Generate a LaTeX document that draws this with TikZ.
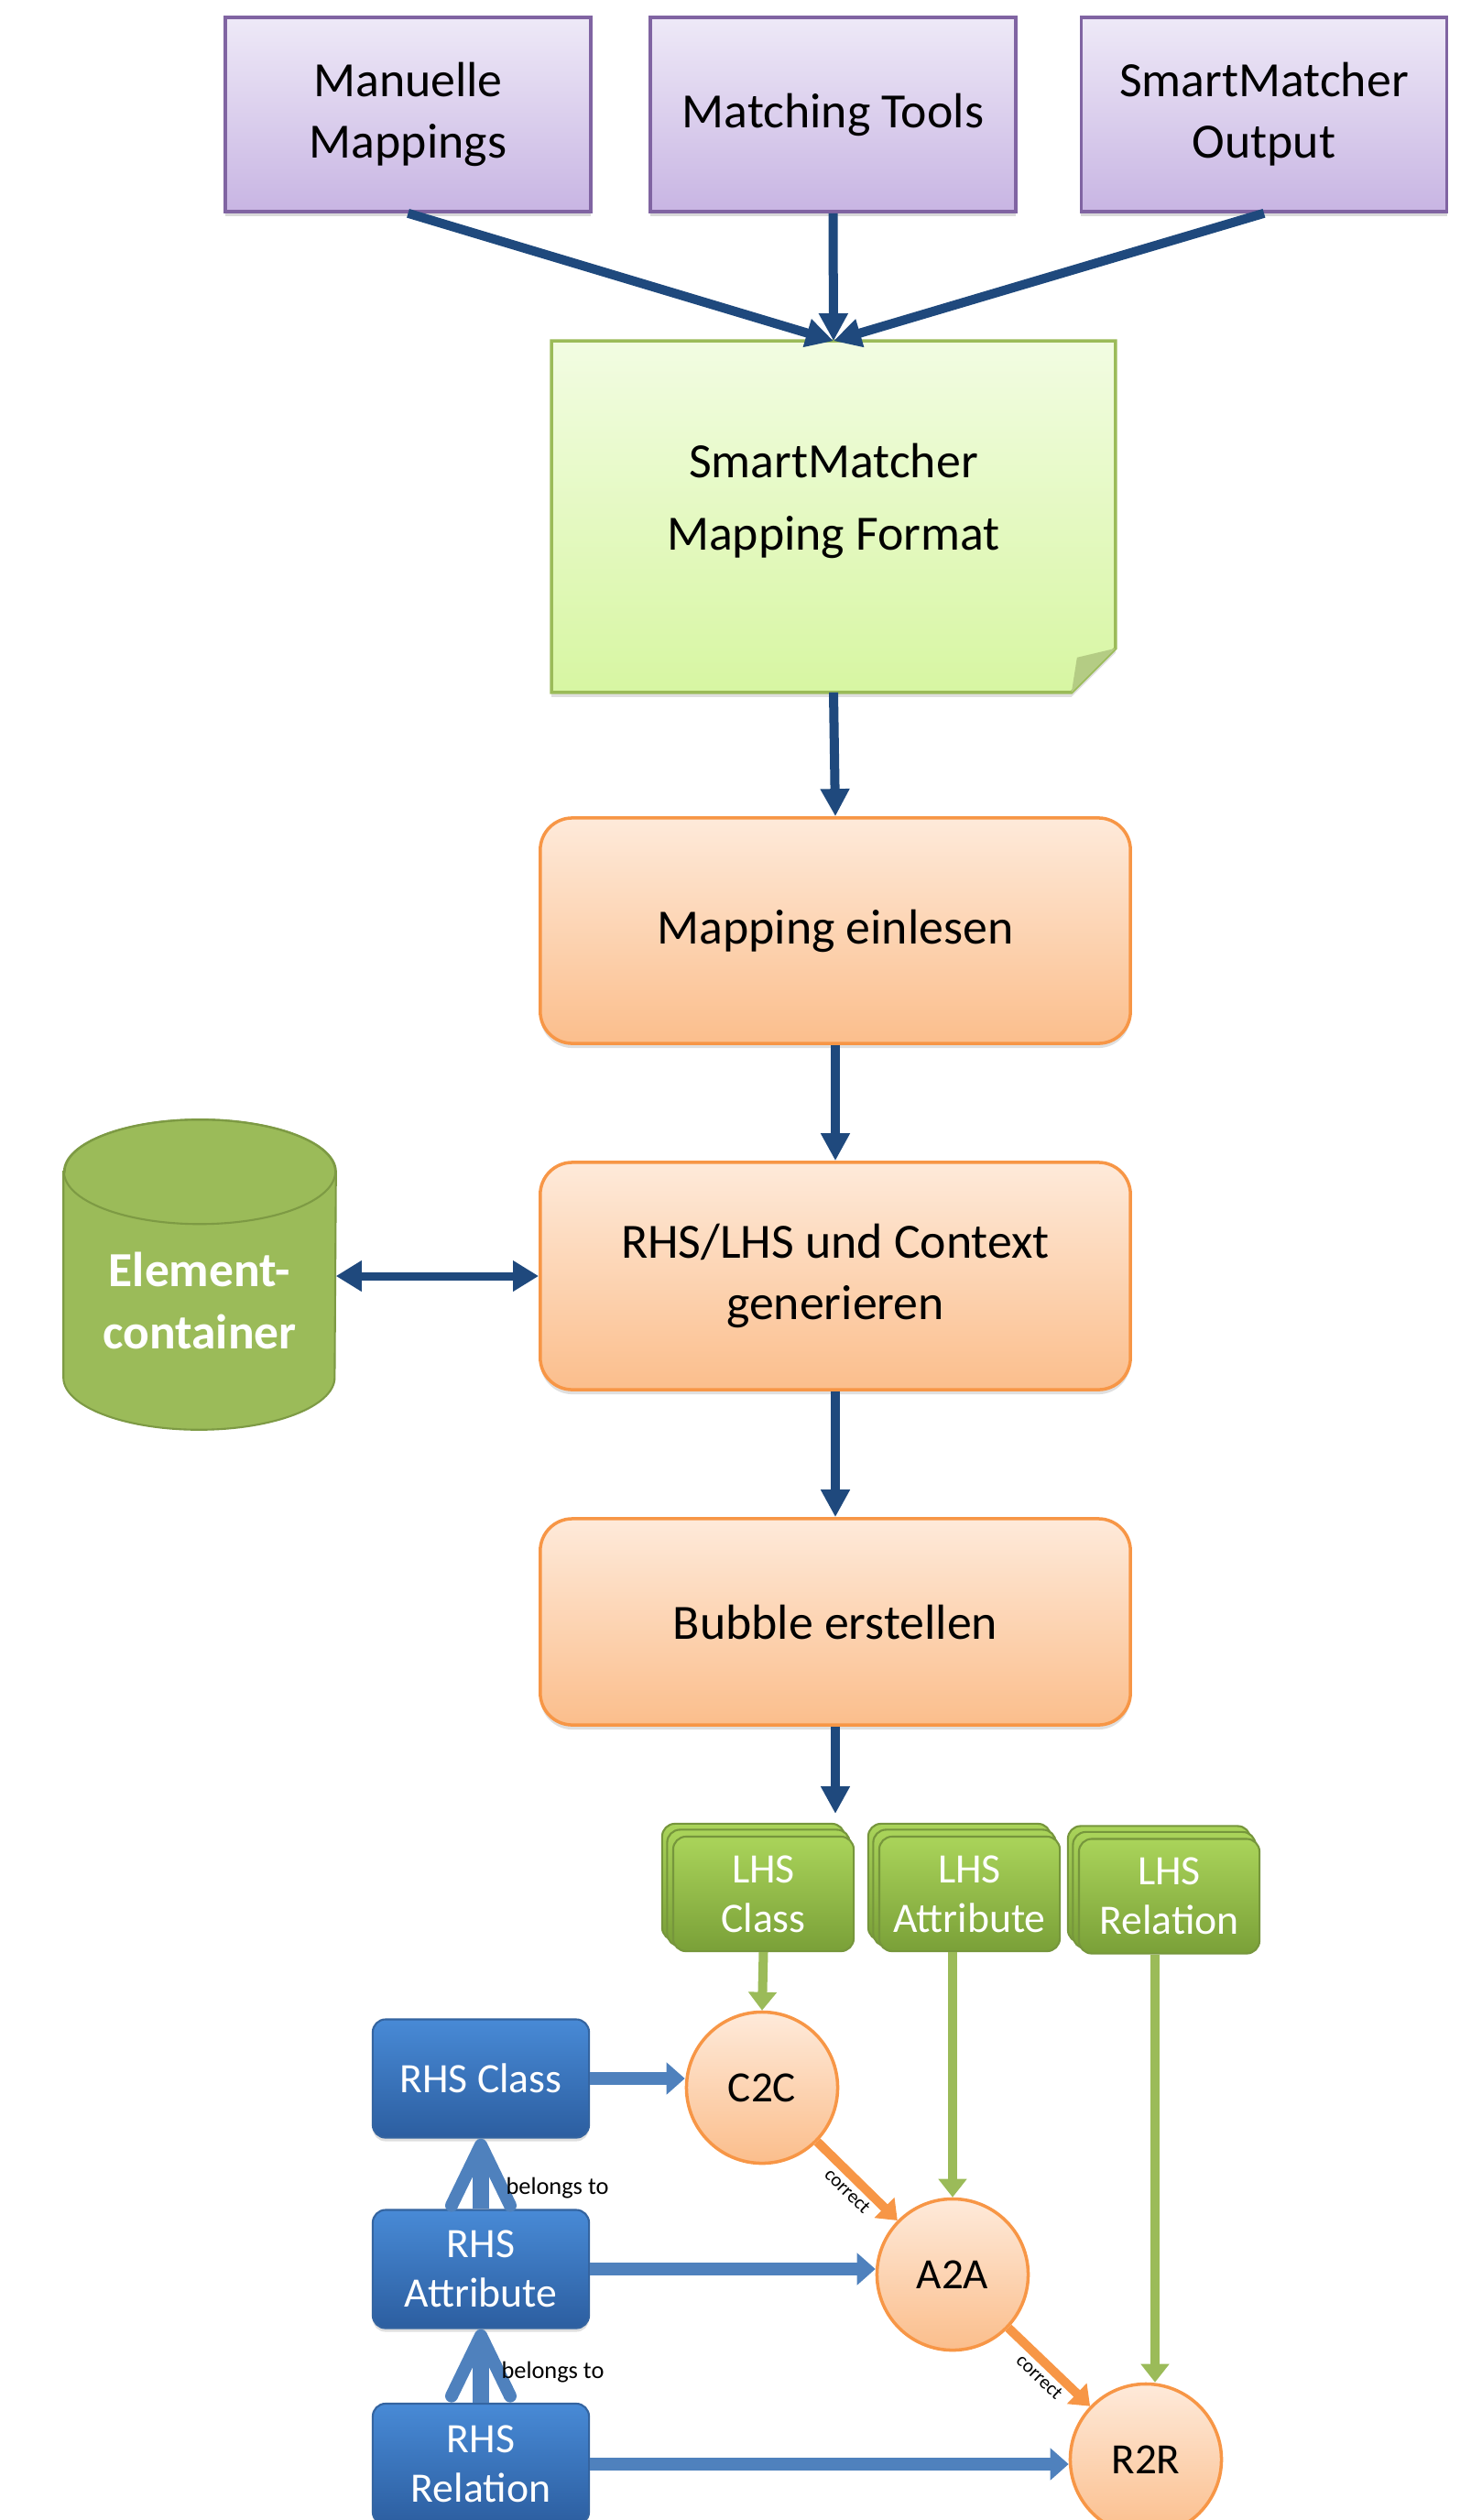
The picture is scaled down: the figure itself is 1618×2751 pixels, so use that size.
\documentclass[tikz,border=0pt]{standalone}
\usepackage{fontspec}
\setmainfont{Carlito}
\usetikzlibrary{arrows.meta,shadows,backgrounds}

\definecolor{navy}{RGB}{31,73,125}
\definecolor{srcline}{RGB}{128,100,162}
\definecolor{srctop}{RGB}{238,233,247}
\definecolor{srcbot}{RGB}{200,181,227}
\definecolor{fmtline}{RGB}{155,187,89}
\definecolor{fmttop}{RGB}{242,252,226}
\definecolor{fmtbot}{RGB}{215,246,162}
\definecolor{fmtfold}{RGB}{180,204,132}
\definecolor{stepline}{RGB}{247,150,70}
\definecolor{steptop}{RGB}{254,234,218}
\definecolor{stepbot}{RGB}{251,190,140}
\definecolor{cylfill}{RGB}{155,187,89}
\definecolor{cylline}{RGB}{125,154,68}
\definecolor{lhstop}{RGB}{170,212,90}
\definecolor{lhsbot}{RGB}{122,160,56}
\definecolor{lhsline}{RGB}{118,150,60}
\definecolor{rhstop}{RGB}{72,138,214}
\definecolor{rhsbot}{RGB}{44,94,160}
\definecolor{rhsline}{RGB}{52,100,160}
\definecolor{linkblue}{RGB}{79,129,189}
\definecolor{linkgreen}{RGB}{155,187,89}
\definecolor{linkorange}{RGB}{247,150,70}

\begin{document}
\begin{tikzpicture}[x=0.01cm, y=-0.01cm]
        \useasboundingbox (0,0) rectangle (1618,2751);
        \tikzstyle{every node} = [align=center]
        \tikzstyle{source} = [rectangle, draw=srcline, line width=1pt, top color=srctop, bottom color=srcbot,
            minimum width=3.99cm, minimum height=2.12cm, font=\fontsize{15.3}{19}\selectfont,
            drop shadow={shadow xshift=0pt, shadow yshift=-0.05cm, opacity=0.3}]
        \tikzstyle{fmtbox} = [rectangle, minimum width=6.14cm, minimum height=3.82cm]
        \tikzstyle{fmttext} = [font=\fontsize{15.3}{22.7}\selectfont]
        \tikzstyle{stepbox} = [rectangle, rounded corners=0.35cm, draw=stepline, line width=1pt,
            top color=steptop, bottom color=stepbot, minimum width=6.44cm, font=\fontsize{15.3}{19}\selectfont,
            drop shadow={shadow xshift=0pt, shadow yshift=-0.05cm, opacity=0.25}]
        \tikzstyle{store} = [rectangle, minimum width=2.96cm, minimum height=2.8cm, text=white,
            font=\fontsize{15.2}{19.5}\selectfont\bfseries]
        \tikzstyle{lhsbox} = [rectangle, rounded corners=0.14cm, draw=lhsline, line width=0.6pt,
            top color=lhstop, bottom color=lhsbot, minimum width=1.97cm, minimum height=1.25cm,
            text=white, font=\fontsize{13}{15.4}\selectfont]
        \tikzstyle{rhsbox} = [rectangle, rounded corners=0.14cm, draw=rhsline, line width=0.6pt,
            top color=rhstop, bottom color=rhsbot, minimum width=2.36cm, minimum height=1.29cm,
            text=white, font=\fontsize{13}{15.4}\selectfont,
            drop shadow={shadow xshift=0pt, shadow yshift=-0.04cm, opacity=0.25}]
        \tikzstyle{bubble} = [circle, draw=stepline, line width=1pt, top color=steptop, bottom color=stepbot,
            minimum size=1.65cm, inner sep=0pt, font=\fontsize{13.4}{16}\selectfont]
        \tikzstyle{flow} = [draw=navy, line width=0.1cm, -{Triangle[length=0.3cm, width=0.3cm]}]
        \tikzstyle{sync} = [draw=navy, line width=0.09cm, {Triangle[length=0.28cm, width=0.32cm]}-{Triangle[length=0.28cm, width=0.32cm]}]
        \tikzstyle{feed} = [draw=linkgreen, line width=0.1cm, -{Triangle[length=0.2cm, width=0.3cm]}]
        \tikzstyle{fix} = [draw=linkorange, line width=0.1cm, -{Triangle[length=0.2cm, width=0.3cm]}]
        \tikzstyle{assign} = [draw=linkblue, line width=0.14cm, -{Triangle[length=0.2cm, width=0.34cm]}]
        \tikzstyle{belongs} = [draw=linkblue, line width=0.18cm, -{Straight Barb[length=0.66cm, width=0.64cm, line width=0.14cm, round]}]
        \tikzstyle{tiny} = [font=\fontsize{7.5}{9}\selectfont, inner sep=1pt]

        % inputs
        \node[source] (man) at (445.5,125) {Manuelle\\Mappings};
        \node[source] (tools) at (909.5,125) {Matching Tools};
        \node[source] (smo) at (1380,125) {SmartMatcher\\Output};

        % mapping format note
        \node[fmtbox] (fmt) at (910,564) {};
        \node[fmttext] (fmtlabel) at ([yshift=0.17cm]fmt.center) {SmartMatcher\\Mapping Format};

        % steps
        \node[stepbox, minimum height=2.46cm] (read) at (912,1016) {Mapping einlesen};
        \node[stepbox, minimum height=2.48cm] (gen) at (912,1393) {RHS/LHS und Context\\generieren};
        \node[stepbox, minimum height=2.25cm] (bub) at (912,1770.5) {Bubble erstellen};
        \node[store] (elem) at (218,1420) {Element-\\container};

        % bubble
        \node[lhsbox] (lhsc) at (833.5,2067.5) {LHS\\Class};
        \node[lhsbox] (lhsa) at (1058.5,2067.5) {LHS\\Attribute};
        \node[lhsbox] (lhsr) at (1276.5,2070) {LHS\\Relation};
        \node[rhsbox] (rhsc) at (525,2269) {RHS Class};
        \node[rhsbox] (rhsa) at (525,2477) {RHS\\Attribute};
        \node[rhsbox, minimum height=1.32cm] (rhsr) at (525,2690) {RHS\\Relation};
        \node[bubble] (c2c) at (832,2279) {C2C};
        \node[bubble] (a2a) at (1040,2483) {A2A};
        \node[bubble] (r2r) at (1251,2685) {R2R};
        \coordinate (bubout) at (912,1980);

        \begin{scope}[on background layer]
            \shade[top color=fmttop, bottom color=fmtbot, draw=fmtline, line width=1pt,
                drop shadow={shadow xshift=0pt, shadow yshift=-0.05cm, opacity=0.25}]
                (fmt.north west) -- (fmt.north east) -- ([yshift=0.48cm]fmt.south east)
                -- ([xshift=-0.48cm]fmt.south east) -- (fmt.south west) -- cycle;
            \fill[fmtfold] ([yshift=0.48cm]fmt.south east) -- ([xshift=-0.48cm]fmt.south east)
                -- ([xshift=-0.42cm, yshift=0.38cm]fmt.south east) -- cycle;
            \draw[fill=cylfill, draw=cylline, line width=0.6pt] (elem.north west) -- ([yshift=0.57cm]elem.south west)
                arc[start angle=180, end angle=360, x radius=1.48cm, y radius=0.57cm]
                -- (elem.north east)
                arc[start angle=0, end angle=180, x radius=1.48cm, y radius=0.57cm] -- cycle;
            \draw[draw=cylline, line width=0.6pt] (elem.north) ellipse[x radius=1.48cm, y radius=0.57cm];
            \foreach \n in {lhsc,lhsa,lhsr}
                \foreach \s in {2,1}
                    \shade[top color=lhstop, bottom color=lhsbot, draw=lhsline, line width=0.6pt, rounded corners=0.14cm]
                        ([xshift={-\s*0.055cm}, yshift={\s*0.065cm}]\n.south west)
                        rectangle ([xshift={-\s*0.055cm}, yshift={\s*0.065cm}]\n.north east);
        \end{scope}

        \foreach \from/\to in {man/fmt, tools/fmt, smo/fmt}
            \draw[flow] (\from.south) -- (\to.north);
        \foreach \from/\to in {fmt/read, read/gen, gen/bub}
            \draw[flow] (\from.south) -- (\to.north);
        \draw[flow] (bub.south) -- (bubout);
        \draw[sync] (elem.east |- gen.west) -- (gen.west);

        \draw[feed] (lhsc.south) -- (c2c.north);
        \draw[feed] (lhsa.south -| a2a.north) -- (a2a.north);
        \draw[feed] ([xshift=0.1cm]lhsr.south -| r2r.north) -- ([xshift=0.1cm]r2r.north);

        \draw[fix] (c2c) -- node[tiny, sloped, below, font=\fontsize{6}{7}\selectfont] {correct} (a2a);
        \draw[fix] (a2a) -- node[tiny, sloped, below, font=\fontsize{6}{7}\selectfont] {correct} (r2r);

        \draw[assign] (rhsc.east) -- (rhsc.east -| c2c.west);
        \draw[assign] (rhsa.east) -- (rhsa.east -| a2a.west);
        \draw[assign] (rhsr.east) -- (rhsr.east -| r2r.west);

        \draw[belongs] (rhsa.north) -- node[tiny, pos=0.3, anchor=west, xshift=0.15cm] {belongs to} (rhsc.south);
        \draw[belongs] (rhsr.north) -- node[tiny, pos=0.41, anchor=west, xshift=0.1cm] {belongs to} (rhsa.south);
\end{tikzpicture}
\end{document}
